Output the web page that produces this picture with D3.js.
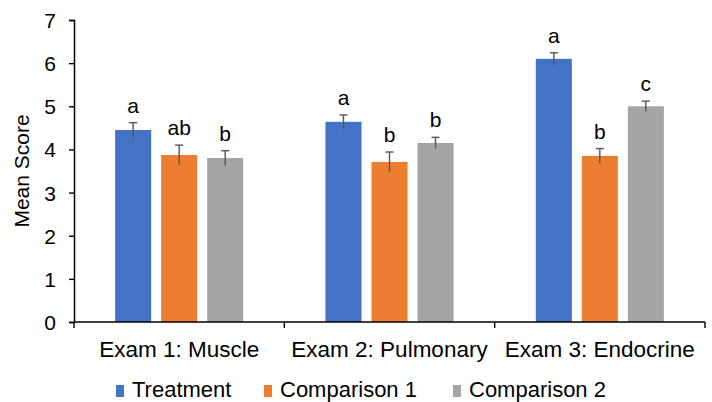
<!DOCTYPE html>
<html>
<head>
<meta charset="utf-8">
<script src="https://cdn.jsdelivr.net/npm/d3@7"></script>
<style>
  html, body { margin: 0; padding: 0; background: #fff; }
  svg { display: block; font-family: "Liberation Sans", Arial, sans-serif; }
</style>
</head>
<body>
<svg id="chart" width="712" height="402"></svg>
<script>
// Exams and groups
const exams = ["Exam 1: Muscle", "Exam 2: Pulmonary", "Exam 3: Endocrine"];
const groups = ["Treatment", "Comparison 1", "Comparison 2"];
const colors = ["#4472C4", "#ED7D31", "#A5A5A5"];

// Mean scores per group (one value per exam)
const treatment   = [4.45, 4.64, 6.10];
const comparison1 = [3.87, 3.71, 3.85];
const comparison2 = [3.80, 4.15, 5.00];

// Standard errors
const errTreatment   = [0.17, 0.16, 0.14];
const errComparison1 = [0.23, 0.23, 0.17];
const errComparison2 = [0.17, 0.13, 0.12];

// Significance letters
const lettersTreatment   = ["a", "a", "a"];
const lettersComparison1 = ["ab", "b", "b"];
const lettersComparison2 = ["b", "b", "c"];

const yTicks = [0, 1, 2, 3, 4, 5, 6, 7];

const seriesValues = [treatment, comparison1, comparison2];
const seriesErr = [errTreatment, errComparison1, errComparison2];
const seriesLetters = [lettersTreatment, lettersComparison1, lettersComparison2];

const rows = [];
exams.forEach((exam, i) => {
  groups.forEach((g, j) => {
    rows.push({ exam, group: g, gi: j, value: seriesValues[j][i], err: seriesErr[j][i], letter: seriesLetters[j][i] });
  });
});

const svg = d3.select("#chart");
const FS = 21;
const plotLeft = 74, plotRight = 705, plotTop = 20, plotBottom = 322;

const x0 = d3.scaleBand().domain(exams).range([plotLeft, plotRight]).paddingInner(0).paddingOuter(0);
const x1 = d3.scaleBand().domain(groups).range([0, x0.bandwidth()]).paddingInner(0.217).paddingOuter(0.894);
const y = d3.scaleLinear().domain([0, 7]).range([plotBottom, plotTop]);

// Bars
svg.append("g").selectAll("rect").data(rows).join("rect")
  .attr("x", d => x0(d.exam) + x1(d.group))
  .attr("y", d => y(d.value))
  .attr("width", x1.bandwidth())
  .attr("height", d => y(0) - y(d.value))
  .attr("fill", d => colors[d.gi]);

// Error bars
const eb = svg.append("g").attr("stroke", "#555").attr("stroke-width", 1.4);
rows.forEach(d => {
  const cx = x0(d.exam) + x1(d.group) + x1.bandwidth() / 2;
  eb.append("line").attr("x1", cx).attr("x2", cx).attr("y1", y(d.value - d.err)).attr("y2", y(d.value + d.err));
  eb.append("line").attr("x1", cx - 4).attr("x2", cx + 4).attr("y1", y(d.value + d.err)).attr("y2", y(d.value + d.err));
});

// Letters
svg.append("g").selectAll("text").data(rows).join("text")
  .attr("x", d => x0(d.exam) + x1(d.group) + x1.bandwidth() / 2)
  .attr("y", d => y(d.value + d.err) - 10)
  .attr("text-anchor", "middle")
  .attr("font-size", FS)
  .attr("fill", "#000")
  .text(d => d.letter);

// Y axis
const yAxis = svg.append("g").attr("transform", `translate(${plotLeft},0)`)
  .call(d3.axisLeft(y).tickValues(yTicks).tickSize(5).tickPadding(13).tickFormat(d3.format("d")));
yAxis.select(".domain").attr("stroke", "#000").attr("stroke-width", 1.5);
yAxis.selectAll(".tick line").attr("stroke", "#000").attr("stroke-width", 1.4);
yAxis.selectAll("text").attr("font-size", FS).attr("fill", "#000")
  .attr("font-family", "Liberation Sans, Arial, sans-serif").attr("dy", "0.36em");

// X axis: baseline with dividers between exams
const xa = svg.append("g");
xa.append("line").attr("x1", plotLeft).attr("x2", plotRight)
  .attr("y1", y(0)).attr("y2", y(0)).attr("stroke", "#000").attr("stroke-width", 1.6);
const dividers = exams.map(e => x0(e)).concat([plotRight]);
xa.selectAll(".div").data(dividers).join("line")
  .attr("x1", d => d).attr("x2", d => d)
  .attr("y1", y(0)).attr("y2", y(0) + 6)
  .attr("stroke", "#000").attr("stroke-width", 1.4);
xa.selectAll("text").data(exams).join("text")
  .attr("x", d => x0(d) + x0.bandwidth() / 2)
  .attr("y", 357)
  .attr("text-anchor", "middle")
  .attr("font-size", 22.5)
  .attr("fill", "#000")
  .text(d => d);

// Y axis title
svg.append("text")
  .attr("transform", `translate(29,${(y(0) + y(7)) / 2}) rotate(-90)`)
  .attr("text-anchor", "middle")
  .attr("font-size", FS)
  .attr("fill", "#000")
  .text("Mean Score");

// Legend
const legendX = [116, 264, 453];
const lg = svg.append("g").selectAll("g").data(groups).join("g")
  .attr("transform", (d, i) => `translate(${legendX[i]},397)`);
lg.append("rect").attr("x", 0).attr("y", -12).attr("width", 8).attr("height", 12)
  .attr("fill", (d, i) => colors[i]);
lg.append("text").attr("x", 16).attr("y", 0).attr("font-size", 22).attr("fill", "#000").text(d => d);
</script>
</body>
</html>
